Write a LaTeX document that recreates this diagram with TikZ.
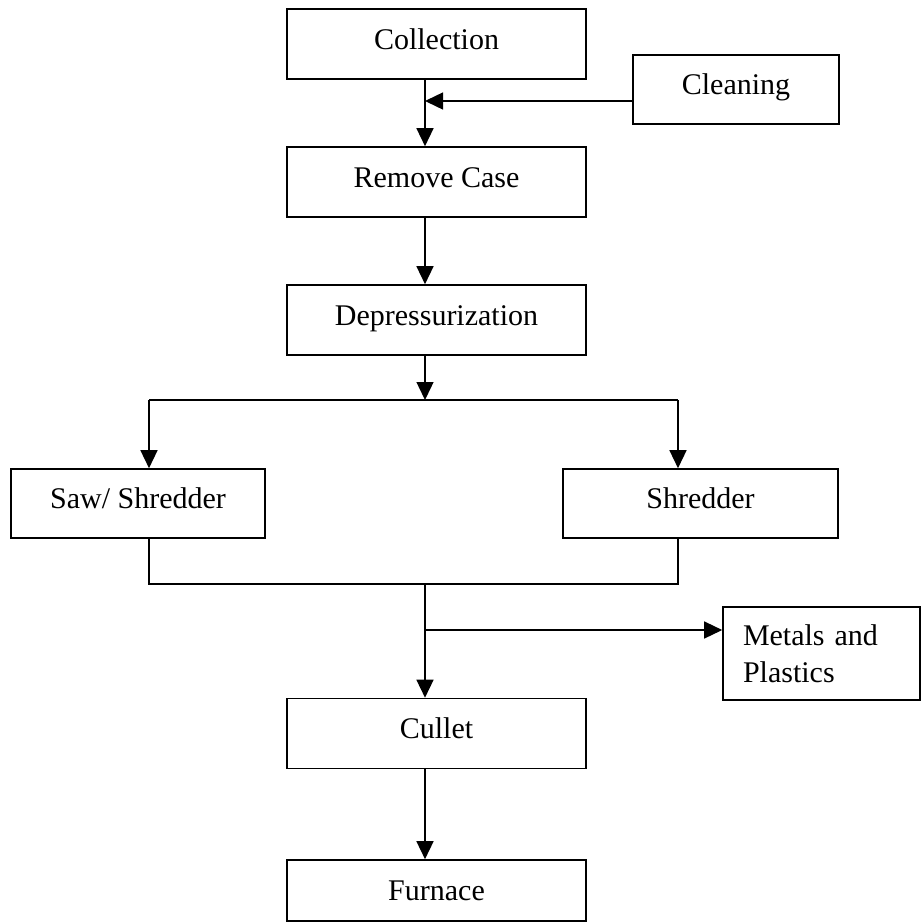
\documentclass[tikz,border=0pt]{standalone}
\usepackage{fontspec}
\setmainfont{Liberation Serif}
\usetikzlibrary{arrows.meta}
\begin{document}
\begin{tikzpicture}[x=1pt,y=-1pt,
  boxbase/.style={draw, line width=1.6pt, inner sep=0pt, font=\fontsize{30}{37}\selectfont},
  box/.style={boxbase, minimum width=299pt, minimum height=70pt, text height=20pt, text depth=10pt},
  conn/.style={line width=1.4pt},
  arr/.style={conn, -{Triangle[length=18pt,width=17pt]}}]
\useasboundingbox (0,0) rectangle (922,924);
% boxes
\node[box] (coll) at (436.5,44) {Collection};
\node[box, minimum width=206pt, minimum height=69pt] (clean) at (736,89.5) {Cleaning};
\node[box] (rem) at (436.5,182) {Remove Case};
\node[box] (dep) at (436.5,320) {Depressurization};
\node[box, minimum width=254pt, minimum height=69pt] (saw) at (138,503.5) {Saw/ Shredder};
\node[box, minimum width=275pt, minimum height=69pt] (shr) at (700.5,503.5) {Shredder};
\node[boxbase, minimum width=197pt, minimum height=93pt, text width=157pt, align=left] (met) at (821.5,653.5) {Metals and\\Plastics};
\node[box] (cul) at (436.5,733.5) {Cullet};
\node[box, minimum height=61pt, text depth=0pt] (fur) at (436.5,890.5) {Furnace};
% junction points
\coordinate (spine) at (425,0);
\coordinate (j1) at (425,101);
\coordinate (b1) at (425,400);
\coordinate (bl) at (149,400);
\coordinate (br) at (678,400);
\coordinate (m1) at (425,584);
\coordinate (ml) at (149,584);
\coordinate (mr) at (678,584);
\coordinate (j2) at (425,630);
% connectors
\draw[arr] (coll.south -| spine) -- (rem.north -| spine);
\draw[arr] (clean.west |- j1) -- (j1);
\draw[arr] (rem.south -| spine) -- (dep.north -| spine);
\draw[arr] (dep.south -| spine) -- (b1);
\draw[conn] (bl) -- (br);
\draw[arr] (bl) -- (saw.north -| bl);
\draw[arr] (br) -- (shr.north -| br);
\draw[conn] (saw.south -| ml) -- (ml) -- (mr) -- (shr.south -| mr);
\draw[arr] (m1) -- (cul.north -| m1);
\draw[arr] (j2) -- (met.west |- j2);
\draw[arr] (cul.south -| spine) -- (fur.north -| spine);
\end{tikzpicture}
\end{document}
